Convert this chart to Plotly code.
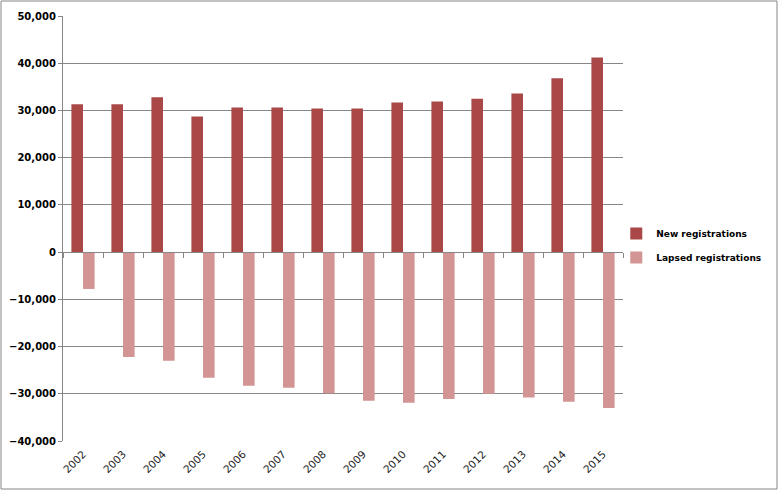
import plotly.graph_objects as go

years = ["2002", "2003", "2004", "2005", "2006", "2007", "2008",
         "2009", "2010", "2011", "2012", "2013", "2014", "2015"]
new_regs = [31300, 31300, 32800, 28700, 30600, 30600, 30400,
            30400, 31700, 31900, 32500, 33600, 36800, 41200]
lapsed_regs = [-7800, -22200, -23000, -26600, -28300, -28700, -29900,
               -31500, -31900, -31100, -30000, -30800, -31700, -33000]
y_ticks = [50000, 40000, 30000, 20000, 10000, 0, -10000, -20000, -30000, -40000]

W, H = 780, 491
ML, MR, MT, MB = 63, 157, 16, 50
YMIN, YMAX = -40000, 50000

fig = go.Figure()
fig.add_trace(go.Bar(x=years, y=new_regs, name="New registrations",
                     legendgroup="new",
                     marker=dict(color="#AA4848", line=dict(width=0))))
fig.add_trace(go.Bar(x=years, y=lapsed_regs, name="Lapsed registrations",
                     legendgroup="lapsed",
                     marker=dict(color="#D39494", line=dict(width=0))))
# invisible trace to carry the zero-line axis with tick marks
fig.add_trace(go.Scatter(x=years, y=[None] * len(years), xaxis="x2",
                         showlegend=False, hoverinfo="skip"))

zero_pos = (0 - YMIN) / (YMAX - YMIN)

fig.update_layout(
    width=W, height=H,
    margin=dict(l=ML, r=MR, t=MT, b=MB, autoexpand=False),
    paper_bgcolor="white", plot_bgcolor="white",
    barmode="group", bargap=0.42, bargroupgap=0,
    font=dict(family="DejaVu Sans", size=10, color="black"),
    xaxis=dict(type="category", categoryorder="array", categoryarray=years,
               range=[-0.5, len(years) - 0.5], automargin=False,
               tickangle=-45, showgrid=False, showline=False, ticks="",
               ticklabelstandoff=4,
               tickfont=dict(family="DejaVu Sans", size=10.5, color="#222")),
    xaxis2=dict(type="category", categoryorder="array", categoryarray=years,
                range=[-0.5, len(years) - 0.5], overlaying="x", anchor="free",
                position=zero_pos, showticklabels=False, showgrid=False,
                automargin=False,
                showline=True, linecolor="#868686", linewidth=1,
                ticks="outside", ticklen=5, tickcolor="#868686",
                tickson="boundaries"),
    yaxis=dict(range=[YMIN, YMAX], tickvals=y_ticks, tickformat=",",
               automargin=False,
               showgrid=True, gridcolor="#868686", gridwidth=1,
               zeroline=False, showline=True, linecolor="#868686",
               linewidth=1, ticks="outside", ticklen=4, tickcolor="#868686",
               tickfont=dict(family="DejaVu Sans", size=10, color="black",
                             weight="bold")),
    legend=dict(x=0.988, y=0.46, xanchor="left", yanchor="middle",
                font=dict(family="DejaVu Sans", size=9, color="black",
                          weight="bold"),
                itemsizing="constant", tracegroupgap=5, bgcolor="rgba(0,0,0,0)"),
    showlegend=True,
)

# outer chart border
pw, ph = W - ML - MR, H - MT - MB
fig.add_shape(type="rect", xref="paper", yref="paper",
              x0=(1 - ML) / pw, x1=(777 - ML) / pw,
              y0=-(489 - (H - MB)) / ph, y1=(H - MB - 1) / ph,
              line=dict(color="#868686", width=1), layer="below")

fig.write_html("out.html",
               config={"displayModeBar": False},
               post_script="document.body.style.margin='0';"
                           "document.body.style.overflow='hidden';")
